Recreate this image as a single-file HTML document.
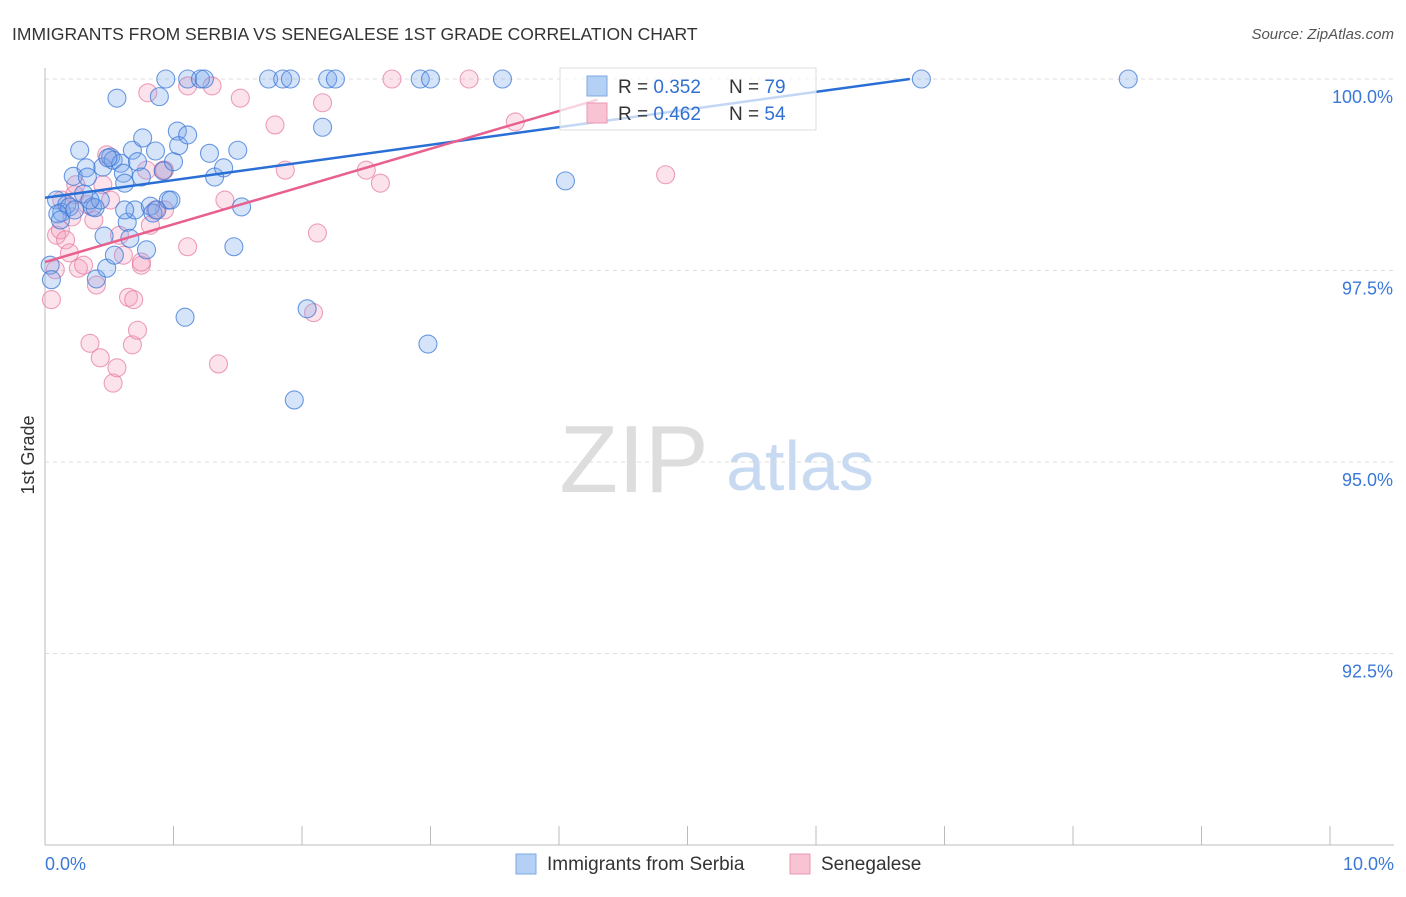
<!DOCTYPE html>
<html><head><meta charset="utf-8"><style>
body{margin:0;background:#fff;font-family:"Liberation Sans",sans-serif}
svg text{font-family:"Liberation Sans",sans-serif}
</style></head><body>
<svg id="c" width="1406" height="892">
<text x="12" y="40" font-size="17.5" fill="#333">IMMIGRANTS FROM SERBIA VS SENEGALESE 1ST GRADE CORRELATION CHART</text>
<text x="1394" y="39" font-size="15" fill="#555" font-style="italic" text-anchor="end">Source: ZipAtlas.com</text>
<text x="634" y="492" font-size="96" fill="#ddd" font-family="Liberation Serif" text-anchor="middle">ZIP</text>
<text x="800" y="490" font-size="70" fill="#c8daf2" text-anchor="middle">atlas</text>
<text x="34" y="455" font-size="18" fill="#333" transform="rotate(-90 34 455)" text-anchor="middle">1st Grade</text>
<g id="grid"></g><g id="pts"></g><g id="lines"></g>
<g>
<rect x="560" y="68" width="256" height="62" fill="#fff" fill-opacity="0.72" stroke="#ddd"/>
<rect x="587" y="76" width="20" height="20" fill="#b5d0f5" stroke="#7fa8e0"/>
<text x="618" y="93" font-size="19" fill="#333">R = <tspan fill="#3070d0">0.352</tspan></text>
<text x="729" y="93" font-size="19" fill="#333">N = <tspan fill="#3070d0">79</tspan></text>
<rect x="587" y="103" width="20" height="20" fill="#f8c3d3" stroke="#e898b5"/>
<text x="618" y="120" font-size="19" fill="#333">R = <tspan fill="#3070d0">0.462</tspan></text>
<text x="729" y="120" font-size="19" fill="#333">N = <tspan fill="#3070d0">54</tspan></text>
</g>
<g>
<rect x="516" y="854" width="20" height="20" fill="#b5d0f5" stroke="#7fa8e0"/>
<text x="547" y="870" font-size="19" fill="#333">Immigrants from Serbia</text>
<rect x="790" y="854" width="20" height="20" fill="#f8c3d3" stroke="#e898b5"/>
<text x="821" y="870" font-size="19" fill="#333">Senegalese</text>
</g>
</svg>
<script>
const blueX=[0.09,0.13,0.17,0.19,0.22,0.23,0.27,0.30,0.32,0.33,0.37,0.39,0.40,0.43,0.45,0.46,0.48,0.51,0.53,0.56,0.54,0.59,0.61,0.62,0.64,0.66,0.68,0.70,0.72,0.75,0.76,0.79,0.82,0.84,0.86,0.87,0.89,0.92,0.94,0.96,0.98,1.00,1.03,1.04,1.09,1.11,1.11,1.21,1.24,1.28,1.32,1.39,1.47,1.50,1.53,1.74,1.85,1.91,1.94,2.04,2.16,2.20,2.26,2.92,3.00,2.98,3.56,4.05,6.82,8.43,0.04,0.05,0.10,0.35,0.49,0.62,0.12];
const blueY=[98.42,98.26,98.36,98.33,98.73,98.29,99.07,98.50,98.84,98.72,98.33,98.32,97.39,98.42,98.85,97.95,97.53,98.98,98.94,99.75,97.70,98.90,98.77,98.64,98.13,97.92,99.07,98.29,98.92,98.72,99.23,97.77,98.34,98.25,99.06,98.29,99.77,98.80,100,98.42,98.42,98.92,99.32,99.13,96.89,99.27,100,100,100,99.03,98.72,98.84,97.81,99.07,98.33,100,100,100,95.81,97.00,99.37,100,100,100,100,96.54,100,98.67,100,100,97.57,97.38,98.24,98.42,98.97,98.29,98.16];
const pinkX=[0.09,0.12,0.13,0.16,0.21,0.23,0.24,0.26,0.30,0.33,0.35,0.38,0.40,0.43,0.45,0.48,0.51,0.53,0.56,0.58,0.61,0.65,0.68,0.69,0.72,0.75,0.79,0.80,0.82,0.86,0.92,0.93,1.11,1.11,1.30,1.35,1.40,1.52,1.79,1.87,2.09,2.12,2.16,2.50,2.61,2.70,3.30,3.66,4.83,0.05,0.08,0.19,0.75,0.93];
const pinkY=[97.96,98.03,98.42,97.90,98.20,98.49,98.62,97.53,97.57,98.36,96.55,98.16,97.31,96.36,98.62,99.01,98.42,96.03,96.23,97.96,97.70,97.15,96.53,97.12,96.72,97.57,98.81,99.82,98.09,98.29,98.81,98.29,97.81,99.91,99.91,96.28,98.42,99.75,99.40,98.81,96.95,97.99,99.69,98.81,98.64,100,100,99.44,98.75,97.12,97.51,97.73,97.61,98.81];
const yTicks=[100,97.5,95,92.5];
const yTickLabels=["100.0%","97.5%","95.0%","92.5%"];
const blueTrend=[[0,98.45],[6.73,100]];
const pinkTrend=[[0,97.61],[4.3,99.73]];
const X=v=>45+v*128.5, Y=v=>79+(100-v)*76.6;
const NS="http://www.w3.org/2000/svg";
function mk(t,a,p){const e=document.createElementNS(NS,t);for(const k in a)e.setAttribute(k,a[k]);p.appendChild(e);return e;}
const g=document.getElementById('grid');
yTicks.forEach((t,i)=>{
 const l=mk('line',{x1:45,x2:1394,y1:Y(t),y2:Y(t),stroke:'#ddd','stroke-dasharray':'4,4'},g);
 
 
 const tx=mk('text',{x:1393,y:Y(t)+24,'font-size':18,fill:'#3a78d8','text-anchor':'end'},g);
 tx.textContent=yTickLabels[i];
 
 
});
mk('line',{x1:45,x2:45,y1:68,y2:845,stroke:'#bbb'},g);
mk('line',{x1:45,x2:1394,y1:845,y2:845,stroke:'#bbb'},g);
for(let i=0;i<=10;i++){mk('line',{x1:X(i),x2:X(i),y1:826,y2:845,stroke:'#bbb'},g);}
const t0=mk('text',{x:45,y:870,'font-size':18,fill:'#3a78d8'},g);t0.textContent='0.0%';


const t1=mk('text',{x:1394,y:870,'font-size':18,fill:'#3a78d8','text-anchor':'end'},g);t1.textContent='10.0%';


const P=document.getElementById('pts');
pinkX.forEach((x,i)=>{
 const c=mk('circle',{cx:X(x),cy:Y(pinkY[i]),r:9,fill:'rgba(244,160,190,0.3)',stroke:'rgba(230,120,160,0.7)','stroke-width':1.1},P);
 
 
});
blueX.forEach((x,i)=>{
 const c=mk('circle',{cx:X(x),cy:Y(blueY[i]),r:9,fill:'rgba(120,165,235,0.3)',stroke:'rgba(60,120,215,0.75)','stroke-width':1.1},P);
 
 
});
const L=document.getElementById('lines');
const bl=mk('line',{x1:X(blueTrend[0][0]),y1:Y(blueTrend[0][1]),x2:X(blueTrend[1][0]),y2:Y(blueTrend[1][1]),stroke:'#2a6fd6','stroke-width':2.5},L);


const pl=mk('line',{x1:X(pinkTrend[0][0]),y1:Y(pinkTrend[0][1]),x2:X(pinkTrend[1][0]),y2:Y(pinkTrend[1][1]),stroke:'#e8608f','stroke-width':2.5},L);


</script>
</body></html>
